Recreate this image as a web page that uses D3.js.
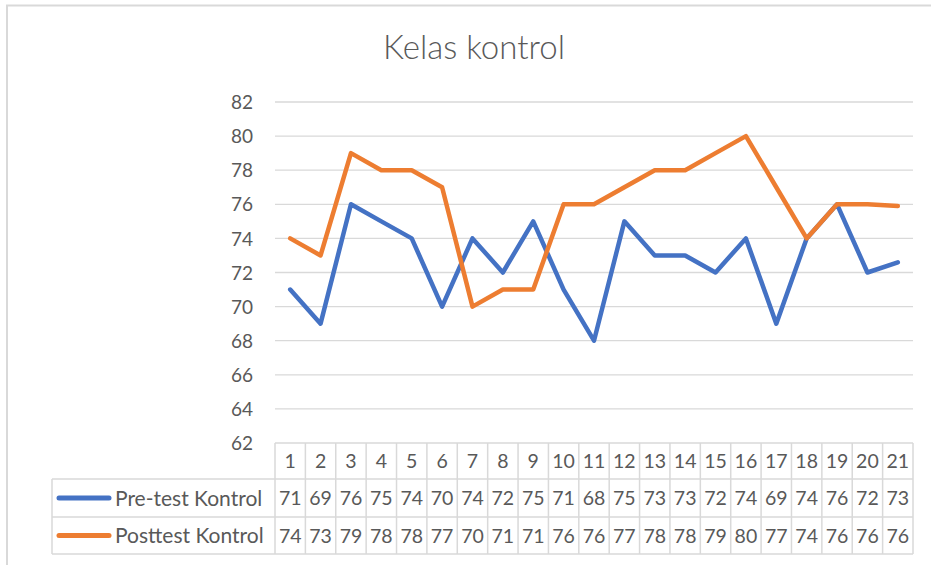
<!DOCTYPE html>
<html>
<head>
<meta charset="utf-8">
<script src="https://cdn.jsdelivr.net/npm/d3@7"></script>
<style>
  body { margin: 0; background: #fff; }
  text { font-family: Lato, "Open Sans", sans-serif; fill: #595959; }
</style>
</head>
<body>
<div id="chart"></div>
<script>
const categories = ["1","2","3","4","5","6","7","8","9","10","11","12","13","14","15","16","17","18","19","20","21"];
const preTest  = [71,69,76,75,74,70,74,72,75,71,68,75,73,73,72,74,69,74,76,72,72.6];
const postTest = [74,73,79,78,78,77,70,71,71,76,76,77,78,78,79,80,77,74,76,76,75.9];
const yTicks = [62,64,66,68,70,72,74,76,78,80,82];

const series = [
  {name: "Pre-test Kontrol", values: preTest, color: "#4472C4"},
  {name: "Posttest Kontrol", values: postTest, color: "#ED7D31"}
];

const W = 931, H = 565;
const plot = {left: 275, right: 913, top: 102, bottom: 443};
const tableLeft = 52;
const rowEdges = [443, 479, 517, 554];

const svg = d3.select("#chart").append("svg")
    .attr("width", W)
    .attr("height", H);

// chart frame
svg.append("rect")
    .attr("x", 7).attr("y", 5.5)
    .attr("width", W + 10).attr("height", H + 10)
    .attr("fill", "none")
    .attr("stroke", "#d9d9d9")
    .attr("stroke-width", 2);

svg.append("text")
    .attr("x", 474).attr("y", 59)
    .attr("text-anchor", "middle")
    .style("font-size", "33px")
    .style("font-weight", 300)
    .text("Kelas kontrol");

const x = d3.scaleBand()
    .domain(categories)
    .range([plot.left, plot.right]);

const y = d3.scaleLinear()
    .domain([62, 82])
    .range([plot.bottom, plot.top]);

// gridlines
svg.append("g")
    .selectAll("line")
    .data(yTicks.slice(1))
    .join("line")
    .attr("x1", plot.left).attr("x2", plot.right)
    .attr("y1", d => y(d)).attr("y2", d => y(d))
    .attr("stroke", "#d9d9d9")
    .attr("stroke-width", 1.3);

const yAxis = svg.append("g")
    .attr("transform", `translate(${plot.left - 22},0)`)
    .call(d3.axisLeft(y).tickValues(yTicks).tickSize(0).tickPadding(0));
yAxis.select(".domain").remove();
yAxis.selectAll("text")
    .attr("dy", "0.35em")
    .style("font-size", "19px")
    .style("font-family", "Lato, sans-serif")
    .attr("fill", "#595959");

// lines
const line = d3.line()
    .x((d, i) => x(categories[i]) + x.bandwidth() / 2)
    .y(d => y(d));

svg.append("g")
    .selectAll("path")
    .data(series)
    .join("path")
    .attr("d", d => line(d.values))
    .attr("fill", "none")
    .attr("stroke", d => d.color)
    .attr("stroke-width", 4.5)
    .attr("stroke-linejoin", "round")
    .attr("stroke-linecap", "round");

// data table
const tbl = svg.append("g");
const grid = "#d9d9d9";

// horizontal rules
tbl.append("line")
    .attr("x1", plot.left).attr("x2", plot.right)
    .attr("y1", rowEdges[0]).attr("y2", rowEdges[0])
    .attr("stroke", grid).attr("stroke-width", 1.5);
rowEdges.slice(1).forEach(r => {
  tbl.append("line")
      .attr("x1", tableLeft).attr("x2", plot.right)
      .attr("y1", r).attr("y2", r)
      .attr("stroke", grid).attr("stroke-width", 1.5);
});

// vertical rules
const colEdges = categories.map(c => x(c)).concat([plot.right]);
tbl.selectAll("line.col")
    .data(colEdges)
    .join("line")
    .attr("class", "col")
    .attr("x1", d => d).attr("x2", d => d)
    .attr("y1", rowEdges[0]).attr("y2", rowEdges[3])
    .attr("stroke", grid).attr("stroke-width", 1.5);
tbl.append("line")
    .attr("x1", tableLeft).attr("x2", tableLeft)
    .attr("y1", rowEdges[1]).attr("y2", rowEdges[3])
    .attr("stroke", grid).attr("stroke-width", 1.5);

const rowMid = i => (rowEdges[i] + rowEdges[i + 1]) / 2;

// header row
tbl.selectAll("text.cat")
    .data(categories)
    .join("text")
    .attr("class", "cat")
    .attr("x", d => x(d) + x.bandwidth() / 2)
    .attr("y", rowMid(0))
    .attr("dy", "0.38em")
    .attr("text-anchor", "middle")
    .style("font-size", "19.5px")
    .text(d => d);

const fmt = d3.format(".0f");
series.forEach((s, si) => {
  const cy = rowMid(si + 1);
  tbl.append("line")
      .attr("x1", 59).attr("x2", 109)
      .attr("y1", cy).attr("y2", cy)
      .attr("stroke", s.color)
      .attr("stroke-width", 5)
      .attr("stroke-linecap", "round");
  tbl.append("text")
      .attr("x", 115).attr("y", cy)
      .attr("dy", "0.38em")
      .style("font-size", "21px")
      .text(s.name);
  tbl.selectAll("text.v" + si)
      .data(s.values)
      .join("text")
      .attr("class", "v" + si)
      .attr("x", (d, i) => x(categories[i]) + x.bandwidth() / 2)
      .attr("y", cy)
      .attr("dy", "0.38em")
      .attr("text-anchor", "middle")
      .style("font-size", "19.5px")
      .text(d => fmt(d));
});
</script>
</body>
</html>
